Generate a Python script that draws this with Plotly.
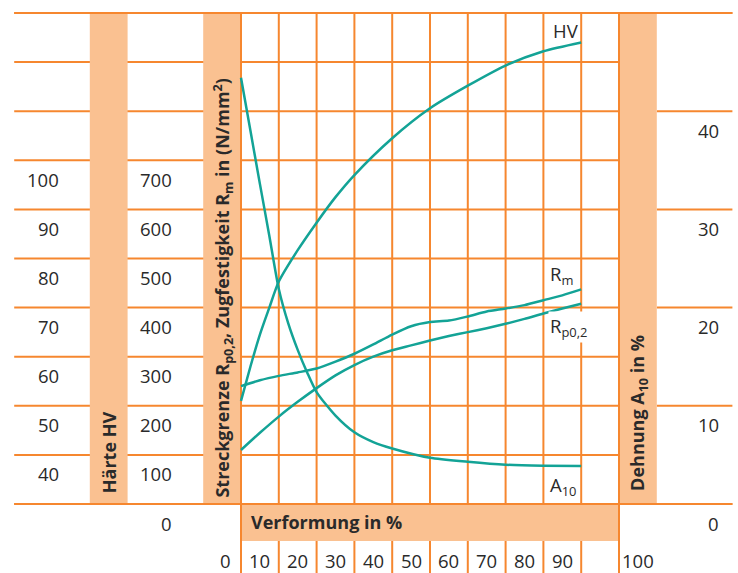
import plotly.graph_objects as go

# ---------------- data ----------------
hv_x = [0, 2.5, 5, 7.5, 10, 15, 20, 25, 30, 40, 50, 60, 70, 80, 90]
hv_y = [51, 58, 64.5, 70, 75.3, 81.7, 87.3, 92.5, 97.0, 104.5, 110.6, 115.2, 119.3, 122.2, 124.0]

rm_x = [0, 5, 10, 15, 20, 25, 30, 35, 40, 45, 50, 55, 60, 65, 70, 75, 80, 85, 90]
rm_y = [240, 252, 261, 268, 276, 290, 306, 325, 345, 362, 370.5, 373.5, 382, 392, 398, 405, 415, 425, 437]

rp_x = [0, 5, 10, 15, 20, 25, 30, 35, 40, 45, 50, 55, 60, 65, 70, 75, 80, 85, 90]
rp_y = [110, 145, 178, 208, 236, 262, 283, 300, 313, 323, 333, 342, 350, 358, 367, 377, 388, 398, 408]

a10_x = [0, 2.5, 5, 7.5, 10, 12.5, 15, 17.5, 20, 25, 30, 35, 40, 50, 60, 70, 80, 90]
a10_y = [43.4, 38, 32.6, 27.3, 21.9, 18.4, 15.7, 13.4, 11.4, 9.0, 7.3, 6.3, 5.65, 4.7, 4.3, 4.0, 3.9, 3.87]

hv_ticks = [100, 90, 80, 70, 60, 50, 40]
strength_ticks = [700, 600, 500, 400, 300, 200, 100, 0]
elong_ticks = [40, 30, 20, 10, 0]
deform_ticks = [0, 10, 20, 30, 40, 50, 60, 70, 80, 90, 100]

# ---------------- styling ----------------
W, H = 738, 573
TEAL = "#13a396"
GRID = "#f6872f"
FILL = "#fac191"
TXT = "#2a2a2a"
FONT = "Open Sans"
NUM_SIZE = 18.5

# axis geometry (pixel scale)
PX_PER_PCT = 3.78
PX_PER_N = 0.491
X0_PX, Y0_PX = 241, 504
x_range = [-X0_PX / PX_PER_PCT, (W - X0_PX) / PX_PER_PCT]
y_range = [-(H - Y0_PX) / PX_PER_N, Y0_PX / PX_PER_N]
# HV = N/10 + 30 ; A10 = N/20
y2_range = [v / 10 + 30 for v in y_range]
y3_range = [v / 20 for v in y_range]

fig = go.Figure()
line = dict(color=TEAL, width=2.5, shape="spline", smoothing=0.7)
fig.add_trace(go.Scatter(x=hv_x, y=hv_y, yaxis="y2", mode="lines", line=line, name="HV"))
fig.add_trace(go.Scatter(x=rm_x, y=rm_y, yaxis="y", mode="lines", line=line, name="Rm"))
fig.add_trace(go.Scatter(x=rp_x, y=rp_y, yaxis="y", mode="lines", line=line, name="Rp0,2"))
fig.add_trace(go.Scatter(x=a10_x, y=a10_y, yaxis="y3", mode="lines", line=line, name="A10"))

shapes = []
def hline(y, x0, x1):
    shapes.append(dict(type="line", xref="x", yref="y", x0=x0, x1=x1, y0=y, y1=y,
                       line=dict(color=GRID, width=2), layer="below"))
def vline(x, y0, y1):
    shapes.append(dict(type="line", xref="x", yref="y", x0=x, x1=x, y0=y0, y1=y1,
                       line=dict(color=GRID, width=2), layer="below"))
def rect(x0, x1, y0, y1):
    shapes.append(dict(type="rect", xref="x", yref="y", x0=x0, x1=x1, y0=y0, y1=y1,
                       fillcolor=FILL, line=dict(width=0), layer="below"))

for n in range(0, 1001, 100):
    hline(n, -60, 0)
    hline(n, 0, 100)
for n in range(0, 1001, 200):
    hline(n, 110, 130)
for p in range(10, 100, 10):
    vline(p, y_range[0], 1000)
rect(-40, -30, 0, 1000)
rect(-10, 0, 0, 1000)
rect(100, 110, 0, 1000)
rect(0, 100, -75.5, 0)
vline(0, y_range[0], 1000)
vline(100, y_range[0], 1000)
hline(1000, -60, 130)
hline(0, -60, 130)

ann = []
def txt(x, y, s, yref="y", size=NUM_SIZE, bold=False, xanchor="center", yanchor="middle",
        xshift=0, yshift=0, angle=0, bg=None):
    d = dict(x=x, y=y, xref="x", yref=yref, text=s, showarrow=False,
             font=dict(family=FONT, size=size, color=TXT, weight="bold" if bold else "normal"),
             xanchor=xanchor, yanchor=yanchor, xshift=xshift, yshift=yshift, textangle=angle)
    if bg:
        d["bgcolor"] = bg
        d["borderpad"] = 1
    ann.append(d)

for v in hv_ticks:
    txt(-47.7, v, str(v), yref="y2", xanchor="right", yshift=-19)
for v in strength_ticks:
    txt(-17.8, v, str(v), yref="y", xanchor="right", yshift=-19)
for v in elong_ticks:
    txt(127, v, str(v), yref="y3", xanchor="right", yshift=-19)
for v in deform_ticks:
    if v < 100:
        txt(v, 0, str(v), xshift=-18.9 + (3 if v == 0 else 0), yshift=-56)
    else:
        txt(v, 0, str(v), xshift=18.9, yshift=-56)

txt(-35, 0, "Härte HV", size=18, bold=True, angle=-90, yshift=51.5)
txt(-5, 0, "Streckgrenze R<sub>p0,2</sub>, Zugfestigkeit R<sub>m</sub> in (N/mm<sup>2</sup>)",
    size=18, bold=True, angle=-90, yshift=216.5)
txt(105, 0, "Dehnung A<sub>10</sub> in %", size=18, bold=True, angle=-90, yshift=91)
txt(0, 0, "Verformung in %", size=18, bold=True, xanchor="left", xshift=8, yshift=-18)

txt(hv_x[-1], hv_y[-1], "HV", yref="y2", xanchor="right", xshift=0, yshift=12)
txt(rm_x[-1], rm_y[-1], "R<sub>m</sub>", yref="y", xanchor="right", xshift=-6, yshift=14)
txt(rp_x[-1], rp_y[-1], "R<sub>p0,2</sub>", yref="y", xanchor="center", xshift=-13, yshift=-23, bg="white")
txt(a10_x[-1], a10_y[-1], "A<sub>10</sub>", yref="y3", xanchor="right", xshift=-2, yshift=-20)

ax_common = dict(showgrid=False, zeroline=False, showticklabels=False, ticks="", showline=False, fixedrange=True)
fig.update_layout(
    width=W, height=H,
    margin=dict(l=0, r=0, t=0, b=0),
    paper_bgcolor="white", plot_bgcolor="white",
    showlegend=False,
    xaxis=dict(range=x_range, domain=[0, 1], **ax_common),
    yaxis=dict(range=y_range, domain=[0, 1], **ax_common),
    yaxis2=dict(range=y2_range, overlaying="y", **ax_common),
    yaxis3=dict(range=y3_range, overlaying="y", **ax_common),
    shapes=shapes,
    annotations=ann,
)
fig.write_html("out.html", config={"displayModeBar": False},
               post_script="document.body.style.margin='0';document.body.style.overflow='hidden';")
